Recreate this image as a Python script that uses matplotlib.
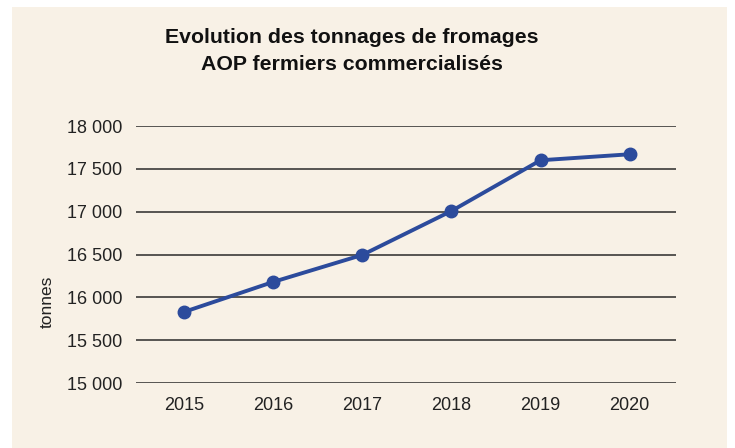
import matplotlib
matplotlib.use("Agg")
import matplotlib.pyplot as plt
from matplotlib.patches import Rectangle
from matplotlib.ticker import FuncFormatter

# data
years = [2015, 2016, 2017, 2018, 2019, 2020]
tonnes = [15830, 16180, 16495, 17008, 17600, 17670]
yticks = [15000, 15500, 16000, 16500, 17000, 17500, 18000]

plt.rcParams['font.family'] = ['Liberation Sans Narrow', 'Liberation Sans', 'DejaVu Sans']

bg = '#f8f1e6'
line_col = '#2c4b9c'

fig = plt.figure(figsize=(7.35, 4.48), dpi=100)
fig.patch.set_facecolor('white')
fig.patches.append(Rectangle((12 / 735, 0), 715 / 735, 1 - 7 / 448,
                             transform=fig.transFigure, facecolor=bg,
                             edgecolor='none', zorder=-5))

ax = fig.add_axes([136 / 735, 1 - 383 / 448, 540 / 735, 257 / 448])
ax.set_zorder(2)
ax.set_facecolor('none')

ax.plot(years, tonnes, color=line_col, linewidth=2.8, marker='o',
        markersize=9, zorder=3, clip_on=False)

ax.set_ylim(15000, 18000)
ax.set_xlim(2014.46, 2020.52)
ax.set_yticks(yticks)
ax.set_xticks(years)
ax.yaxis.set_major_formatter(FuncFormatter(lambda v, p: f"{int(v):,}".replace(',', ' ')))
ax.grid(axis='y', color='#2a2a2a', linewidth=1.1)
ax.set_axisbelow(True)
for s in ax.spines.values():
    s.set_visible(False)
ax.tick_params(axis='both', length=0, labelsize=13, colors='#222222')
ax.tick_params(axis='y', pad=10)
ax.tick_params(axis='x', pad=10)

ax.set_ylabel('tonnes', fontsize=12.5, color='#222222')
ax.yaxis.set_label_coords(-0.15, 0.315)

fig.text(352 / 735, 1 - 51 / 448, "Evolution des tonnages de fromages\nAOP fermiers commercialisés",
         ha='center', va='center', fontsize=15.3, fontweight='bold', color='#111111',
         linespacing=1.5)

fig.savefig('out.png', dpi=100, facecolor='white')
